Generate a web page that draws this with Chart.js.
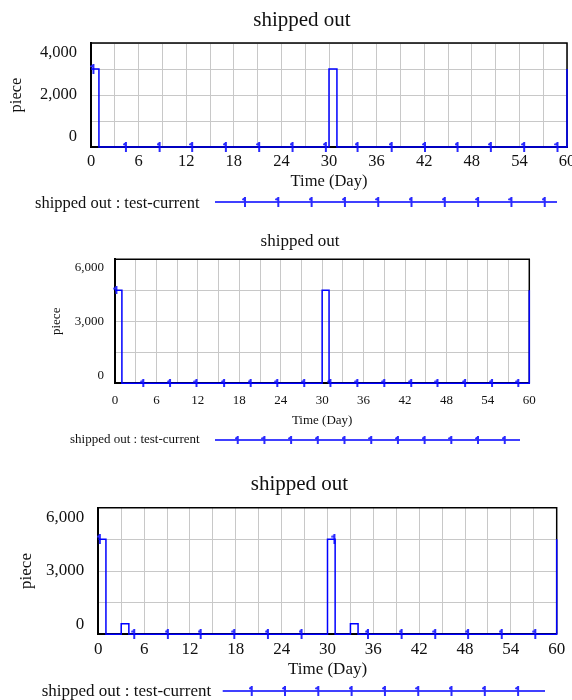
<!DOCTYPE html>
<html>
<head>
<meta charset="utf-8">
<title>shipped out</title>
<script src="https://cdn.jsdelivr.net/npm/chart.js@4.4.1/dist/chart.umd.min.js"></script>
<style>
    html, body { margin: 0; padding: 0; background: #fff; }
    .panel { position: absolute; left: 0; width: 572px; }
    .panel canvas { display: block; }
</style>
</head>
<body>
<div class="panel" style="top:0;height:220px"><canvas id="chart1"></canvas></div>
<div class="panel" style="top:220px;height:235px"><canvas id="chart2"></canvas></div>
<div class="panel" style="top:455px;height:245px"><canvas id="chart3"></canvas></div>
<script>
// Data (Time in days, shipped out in pieces)
const timeMax = 60;
const timeGridStep = 3;

const run1Days = [0, 1, 30, 31, 60];
const run1Pieces = [3000, 0, 3000, 0, 3000];
const run1MarkerDays = [0.3, 4.4, 8.65, 12.75, 17, 21.2, 25.4, 29.6, 33.6, 37.9, 42.1, 46.2, 50.4, 54.6, 58.8];
const run1AxisMax = 4000;

const run2Days = [0, 1, 30, 31, 60];
const run2Pieces = [4500, 0, 4500, 0, 4500];
const run2MarkerDays = [0.2, 4.1, 7.97, 11.8, 15.8, 19.65, 23.5, 27.4, 31.2, 35.1, 39, 42.9, 46.7, 50.7, 54.6, 58.4];
const run2AxisMax = 6000;

const run3Days = [0, 1, 3, 4, 30, 31, 33, 34, 60];
const run3Pieces = [4500, 0, 500, 0, 4500, 0, 500, 0, 4500];
const run3MarkerDays = [0.2, 4.7, 9.1, 13.4, 17.8, 22.2, 26.6, 30.9, 35.3, 39.7, 44.1, 48.4, 52.8, 57.2];
const run3AxisMax = 6000;

const chartTitle = 'shipped out';
const xTitle = 'Time (Day)';
const yTitle = 'piece';
const keyLabel = 'shipped out : test-current';

const serif = "'Liberation Serif', 'Times New Roman', Times, serif";
const lineBlue = '#0000ff';
const gridGray = '#c8c8c8';
const inkColor = '#111';

// the little "1" Vensim puts along the line of run number one
function makeRunGlyph(h) {
    const c = document.createElement('canvas');
    c.width = 6;
    c.height = h;
    const g = c.getContext('2d');
    g.strokeStyle = '#2a2aff';
    g.lineWidth = 2;
    g.beginPath();
    g.moveTo(3, 0);
    g.lineTo(3, h);
    g.moveTo(3, 1);
    g.lineTo(0.5, 3);
    g.stroke();
    return c;
}

// value held by the stepped series at a given day
function valueAt(days, pieces, t) {
    let v = pieces[0];
    days.forEach((d, i) => {
        if (d <= t) v = pieces[i];
    });
    return v;
}

const vensimDecor = {
    id: 'vensimDecor',
    beforeDatasetsDraw(chart) {
        const { ctx, chartArea: a } = chart;
        ctx.save();
        ctx.strokeStyle = '#000';
        ctx.lineWidth = 1.5;
        ctx.beginPath();
        ctx.moveTo(a.left, a.top);
        ctx.lineTo(a.right, a.top);
        ctx.lineTo(a.right, a.bottom);
        ctx.stroke();
        ctx.restore();
    },
    afterDraw(chart, args, opts) {
        const ctx = chart.ctx;
        ctx.save();
        ctx.fillStyle = inkColor;
        ctx.textBaseline = 'middle';

        // title
        ctx.font = `${opts.titleSize}px ${serif}`;
        ctx.textAlign = 'center';
        ctx.fillText(chartTitle, opts.titleX, opts.titleY);

        // key: label, then a sample line with the run glyphs
        ctx.font = `${opts.keySize}px ${serif}`;
        ctx.textAlign = 'left';
        ctx.fillText(keyLabel, opts.keyX, opts.keyY);

        ctx.strokeStyle = lineBlue;
        ctx.lineWidth = 1.5;
        ctx.beginPath();
        ctx.moveTo(opts.keyLine[0], opts.keyLineY);
        ctx.lineTo(opts.keyLine[1], opts.keyLineY);
        ctx.stroke();

        const glyph = opts.glyph;
        for (let x = opts.keyLine[0] + opts.keyFirst; x < opts.keyLine[1] - 5; x += opts.keyStep) {
            ctx.drawImage(glyph, x - glyph.width / 2, opts.keyLineY - glyph.height / 2);
        }
        ctx.restore();
    }
};

function buildPanel(canvasId, days, pieces, markerDays, axisMax, look) {
    const font = { family: serif, size: look.fontSize, lineHeight: 1.2 };
    const glyph = makeRunGlyph(look.glyphHeight);

    return new Chart(document.getElementById(canvasId), {
        type: 'line',
        data: {
            datasets: [
                {
                    label: keyLabel,
                    data: days.map((d, i) => ({ x: d, y: pieces[i] })),
                    stepped: true,
                    borderColor: lineBlue,
                    borderWidth: 1.5,
                    pointRadius: 0,
                    fill: false,
                    clip: false
                },
                {
                    label: 'run markers',
                    data: markerDays.map(d => ({ x: d, y: valueAt(days, pieces, d) })),
                    showLine: false,
                    pointStyle: glyph,
                    pointRadius: 4,
                    clip: false
                }
            ]
        },
        options: {
            animation: false,
            responsive: true,
            maintainAspectRatio: false,
            layout: {
                padding: { left: 0, top: look.top, right: look.right, bottom: look.bottom }
            },
            plugins: {
                legend: { display: false },
                tooltip: { enabled: false },
                title: { display: false },
                vensimDecor: {
                    glyph: glyph,
                    titleSize: look.titleSize,
                    titleX: look.titleX,
                    titleY: look.titleY,
                    keySize: look.fontSize,
                    keyX: look.keyX,
                    keyY: look.keyY,
                    keyLine: look.keyLine,
                    keyLineY: look.keyLineY,
                    keyFirst: look.keyFirst,
                    keyStep: look.keyStep
                }
            },
            scales: {
                x: {
                    type: 'linear',
                    min: 0,
                    max: timeMax,
                    ticks: {
                        stepSize: timeGridStep,
                        autoSkip: false,
                        maxRotation: 0,
                        padding: look.xPad,
                        color: inkColor,
                        font: font,
                        callback: (v, i) => (i % 2 === 0 ? String(v) : '')
                    },
                    grid: { color: gridGray, lineWidth: 1, drawTicks: false },
                    border: { color: '#000', width: 2 },
                    title: { display: true, text: xTitle, color: inkColor, font: font, padding: 0 },
                    afterFit: s => {
                        s.height = look.xHeight;
                        s.paddingLeft = 0;
                        s.paddingRight = 0;
                    }
                },
                y: {
                    type: 'linear',
                    min: 0,
                    max: axisMax,
                    ticks: {
                        stepSize: axisMax / 4,
                        autoSkip: false,
                        padding: look.yPad,
                        color: inkColor,
                        font: font,
                        // Vensim nudges the end labels inside the frame
                        callback: (v, i) => {
                            if (i % 2 !== 0) return '';
                            const txt = v.toLocaleString('en-US');
                            if (v === 0) return [txt, ''];
                            if (v === axisMax) return ['', txt];
                            return txt;
                        }
                    },
                    grid: { color: gridGray, lineWidth: 1, drawTicks: false },
                    border: { color: '#000', width: 2 },
                    title: { display: true, text: yTitle, color: inkColor, font: font, padding: { top: look.yTitlePad, bottom: 0 } },
                    afterFit: s => {
                        s.width = look.left;
                        s.paddingTop = 0;
                        s.paddingBottom = 0;
                    }
                }
            }
        },
        plugins: [vensimDecor]
    });
}

document.addEventListener('DOMContentLoaded', function() {
    buildPanel('chart1', run1Days, run1Pieces, run1MarkerDays, run1AxisMax, {
        fontSize: 16.5, titleSize: 21, glyphHeight: 10,
        left: 91, right: 2.5, top: 43, bottom: 28, xHeight: 45,
        xPad: 5, yPad: 14, yTitlePad: 7,
        titleX: 302, titleY: 20,
        keyX: 35, keyY: 204, keyLine: [215, 557], keyLineY: 202, keyFirst: 30, keyStep: 33.3
    });

    buildPanel('chart2', run2Days, run2Pieces, run2MarkerDays, run2AxisMax, {
        fontSize: 13, titleSize: 17, glyphHeight: 8,
        left: 115, right: 42.7, top: 39.3, bottom: 26.2, xHeight: 45.5,
        xPad: 9, yPad: 11, yTitlePad: 49,
        titleX: 300, titleY: 21.7,
        keyX: 70, keyY: 220, keyLine: [215, 520], keyLineY: 220, keyFirst: 22.7, keyStep: 26.7
    });

    buildPanel('chart3', run3Days, run3Pieces, run3MarkerDays, run3AxisMax, {
        fontSize: 17, titleSize: 21, glyphHeight: 10,
        left: 98.3, right: 15.3, top: 52.7, bottom: 20.5, xHeight: 45.2,
        xPad: 5.5, yPad: 14, yTitlePad: 16,
        titleX: 299.5, titleY: 29,
        keyX: 41.7, keyY: 236.5, keyLine: [222.7, 545], keyLineY: 236, keyFirst: 29, keyStep: 33.3
    });
});
</script>
</body>
</html>
